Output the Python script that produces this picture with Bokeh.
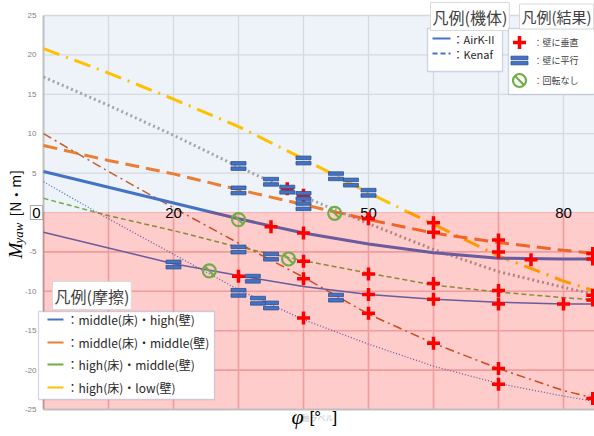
import numpy as np
from bokeh.plotting import figure
from bokeh.models import BoxAnnotation, Label, Range1d
from bokeh.embed import file_html
from bokeh.resources import INLINE

# ---------------- data ----------------
phi = [0, 10, 20, 30, 40, 50, 60, 70, 80, 85]
curve_yellow = [20.8, 17.7, 14.4, 10.9, 6.8, 2.5, -1.5, -5.5, -8.7, -10.0]
curve_grey = [17.2, 13.6, 9.8, 5.8, 2.0, -1.4, -4.7, -7.5, -9.5, -10.4]
curve_orange = [8.5, 6.6, 4.9, 2.9, 1.0, -0.9, -2.6, -3.8, -4.8, -5.2]
curve_blue = [5.2, 3.2, 1.2, -0.8, -2.6, -4.0, -5.1, -5.8, -5.9, -5.9]
curve_brown = [10.0, 5.2, 0.6, -3.9, -8.2, -12.9, -16.6, -19.8, -22.6, -23.6]
curve_bdot = [3.9, -0.8, -5.3, -9.8, -13.6, -16.7, -19.5, -21.7, -23.3, -24.0]
curve_green = [1.8, -0.4, -2.3, -4.4, -6.1, -7.7, -9.2, -10.1, -10.8, -11.1]
curve_bthin = [-2.5, -4.5, -6.5, -8.0, -9.4, -10.4, -11.0, -11.4, -11.6, -11.6]

perp_phi = [37.5, 40, 50, 35, 40, 30, 40, 40, 40, 50, 50, 50,
            60, 60, 60, 60, 60, 70, 70, 70, 70, 70, 70, 75, 80,
            84.5, 84.5, 84.5, 84.5, 84.5]
perp_m = [3.0, 2.2, -0.8, -1.8, -2.6, -8.1, -6.2, -8.4, -13.4, -7.8, -10.4, -12.8,
          -1.3, -2.5, -9.0, -11.0, -16.6, -3.5, -5.0, -9.9, -11.6, -19.8, -21.8, -6.0, -11.6,
          -5.2, -5.9, -10.5, -11.1, -23.6]

par_phi = [30, 30, 35, 37.5, 40, 40, 40, 45, 47.3, 50,
           20, 30, 35, 32.2, 30, 33, 35, 45]
par_m = [5.9, 2.8, 3.9, 2.9, 6.6, 2.1, 0.8, 4.6, 3.8, 2.5,
         -6.6, -4.7, -5.6, -8.4, -10.2, -11.2, -11.8, -10.8]

none_phi = [30, 44.8, 37.7, 25.5]
none_m = [-0.9, -0.1, -5.9, -7.4]

y_ticks = [-25, -20, -15, -10, -5, 0, 5, 10, 15, 20, 25]
x_grid = [10, 20, 30, 40, 50, 60, 70, 80]
x_tick_vals = [0, 20, 50, 80]
x_tick_text = ["0", "20", "50", "80"]

friction_labels = ["：middle(床)・high(壁)", "：middle(床)・middle(壁)",
                   "：high(床)・middle(壁)", "：high(床)・low(壁)"]
friction_colors = ["#4472C4", "#ED7D31", "#70AD47", "#FFC000"]
body_labels = ["：AirK-II", "：Kenaf"]
result_labels = ["：壁に垂直", "：壁に平行", "：回転なし"]

JP = "Noto Sans CJK JP"

# ---------------- layout (pixels) ----------------
W, H = 594, 436
PL, PT, PB = 43, 15, 409          # plot-area left / top / bottom in page pixels
x0, x1 = 0, 85
y0, y1 = -25, 25
kx = 6.5                          # px per degree
ky = (PB - PT) / (y1 - y0)        # px per N*m
xr = Range1d(x0 - PL / kx, x0 + (W - PL) / kx)
yr = Range1d(y0 - (H - PB) / ky, y1 + PT / ky)
x_end = xr.end


def sy(py):
    return H - py


p = figure(width=W, height=H, x_range=xr, y_range=yr, output_backend="svg",
           toolbar_location=None, x_axis_location=None, y_axis_location=None,
           min_border=0)
p.background_fill_color = "white"
p.border_fill_color = "white"
p.outline_line_color = None
p.grid.visible = False
p.extra_x_ranges = {"px": Range1d(0, W)}
p.extra_y_ranges = {"px": Range1d(H, 0)}

# plot-area backgrounds
p.add_layout(BoxAnnotation(left=x0, bottom=0, top=y1, fill_color="#EEF2F9", fill_alpha=1,
                           line_color=None, level="image"))

# grid lines
up_ticks = [t for t in y_ticks if t > 0]
lo_ticks = [t for t in y_ticks if -25 < t < 0]
p.segment(x0=x_grid, y0=[0] * len(x_grid), x1=x_grid, y1=[y1] * len(x_grid),
          line_color="#D6D9E0", line_width=1.3, level="underlay")
p.segment(x0=[x0] * len(up_ticks), y0=up_ticks, x1=[x_end] * len(up_ticks), y1=up_ticks,
          line_color="#D6D9E0", line_width=1.3, level="underlay")
p.segment(x0=x_grid, y0=[y0] * len(x_grid), x1=x_grid, y1=[0] * len(x_grid),
          line_color="#ECC4C4", line_width=1.6, level="underlay")
p.segment(x0=[x0] * len(lo_ticks), y0=lo_ticks, x1=[x_end] * len(lo_ticks), y1=lo_ticks,
          line_color="#ECC4C4", line_width=1.6, level="underlay")
p.segment(x0=[x0], y0=[y0], x1=[x0], y1=[y1], line_color="#BFBFBF", line_width=2,
          level="underlay")

# ---------------- curves ----------------
p.line(phi, curve_grey, line_color="#A5A5A5", line_width=3, line_dash="2 3")
p.line(phi, curve_yellow, line_color="#FFC000", line_width=3, line_dash="17 7 2 7")
p.line(phi, curve_orange, line_color="#ED7D31", line_width=3, line_dash="14 7")
p.line(phi, curve_brown, line_color="#C0602A", line_width=1.5, line_dash="9 4 2 4")
p.line(phi, curve_bdot, line_color="#4472C4", line_width=1.3, line_dash="1 2")
p.line(phi, curve_green, line_color="#70AD47", line_width=1.5, line_dash="5 3")
p.line(phi, curve_bthin, line_color="#4472C4", line_width=1.5)
p.line(phi, curve_blue, line_color="#4472C4", line_width=3)

# negative region tint, drawn over the curves
p.add_layout(BoxAnnotation(left=x0, bottom=y0, top=0, fill_color="#FF0000", fill_alpha=0.2,
                           line_color="#FF0000", line_alpha=0.2, line_width=1))
p.segment(x0=[x0], y0=[y0], x1=[x_end], y1=[y0], line_color="#BFBFBF", line_width=2,
          level="overlay")

# ---------------- markers ----------------
p.scatter(perp_phi, perp_m, marker="cross", size=13, line_color="#FF0000",
          line_width=3.5, level="overlay")
bar_x = par_phi + par_phi
bar_y = [m + 0.34 for m in par_m] + [m - 0.34 for m in par_m]
p.rect(bar_x, bar_y, width=15, height=3.5, width_units="screen", height_units="screen",
       fill_color="#4472C4", line_color="#2F528F", line_width=0.8, level="overlay")
p.scatter(none_phi, none_m, marker="circle", size=13, fill_color=None,
          line_color="#70AD47", line_width=2.2, level="overlay")
p.scatter(none_phi, none_m, marker="dash", size=12, angle=-np.pi / 4,
          line_color="#70AD47", line_width=2.2, level="overlay")

# ---------------- tick labels ----------------
for t in y_ticks:
    if t == 0:
        continue
    p.add_layout(Label(x=x0, y=t, x_offset=-7, text=str(t), text_align="right",
                       text_baseline="middle", text_font="Liberation Sans",
                       text_font_size="8px", text_color="#7F7F7F"))

for v, t in zip(x_tick_vals, x_tick_text):
    if v == 0:
        p.add_layout(Label(x=v, y=0, text=t, text_align="center", text_baseline="middle",
                           x_offset=-7, text_font="Liberation Sans", text_font_size="15px",
                           text_color="#000000", background_fill_color="white",
                           border_line_color="#A6A6A6", padding=2))
    else:
        p.add_layout(Label(x=v, y=0, text=t, text_align="center", text_baseline="middle",
                           text_font="Liberation Sans", text_font_size="15px",
                           text_color="#000000"))

# ---------------- legends (drawn by hand) ----------------
def legend_box(l, t, r, b):
    p.add_layout(BoxAnnotation(left=l, right=r, top=sy(t), bottom=sy(b),
                               left_units="screen", right_units="screen",
                               top_units="screen", bottom_units="screen",
                               fill_color="white", fill_alpha=1,
                               line_color="#6F7FAE", line_width=1.3))


def legend_text(x, y, text, size, color="#262626"):
    p.add_layout(Label(x=x, y=sy(y), x_units="screen", y_units="screen", text=text,
                       text_font=JP, text_font_size=size, text_color=color,
                       text_baseline="middle"))


def title_box(x, y, text, size):
    p.add_layout(Label(x=x, y=sy(y), x_units="screen", y_units="screen", text=text,
                       text_font=JP, text_font_size=size, text_color="#404040",
                       text_baseline="middle", background_fill_color="white",
                       border_line_color="#D9D9D9", padding=2))


PX = dict(x_range_name="px", y_range_name="px", level="overlay")

# friction legend
legend_box(38, 311, 214, 399)
f_y = [319, 342, 364, 387]
p.segment(x0=[47] * 4, y0=f_y, x1=[63] * 4, y1=f_y, line_color=friction_colors,
          line_width=2, **PX)
for yy, lab in zip(f_y, friction_labels):
    legend_text(66, yy, lab, "12px")
title_box(52, 295, "凡例(摩擦)", "16px")

# airframe legend
legend_box(427, 28, 502, 71)
p.segment(x0=[432], y0=[38], x1=[450], y1=[38], line_color="#4472C4", line_width=2, **PX)
p.segment(x0=[432], y0=[53], x1=[450], y1=[53], line_color="#4472C4", line_width=2,
          line_dash="5 3", **PX)
legend_text(452, 38, body_labels[0], "11px")
legend_text(452, 53, body_labels[1], "11px")
title_box(430, 16, "凡例(機体)", "16px")

# result legend
legend_box(508, 28, W, 94)
p.scatter(x=[519], y=[42], marker="cross", size=13, line_color="#FF0000", line_width=3.5, **PX)
p.rect(x=[519, 519], y=[57.4, 62.6], width=17, height=3.5, fill_color="#4472C4",
       line_color="#2F528F", line_width=0.8, **PX)
p.scatter(x=[519], y=[80], marker="circle", size=13, fill_color=None,
          line_color="#70AD47", line_width=2.2, **PX)
p.scatter(x=[519], y=[80], marker="dash", size=12, angle=-np.pi / 4,
          line_color="#70AD47", line_width=2.2, **PX)
for yy, lab in zip([42, 60, 80], result_labels):
    legend_text(533, yy, lab, "9px", "#404040")
title_box(519, 16, "凡例(結果)", "15px")

# ---------------- axis titles ----------------
p.add_layout(Label(x=15, y=sy(258), x_units="screen", y_units="screen", text="M",
                   angle=np.pi / 2, text_font="Liberation Serif", text_font_style="italic",
                   text_font_size="19px", text_baseline="middle", text_color="#000000"))
p.add_layout(Label(x=18, y=sy(243), x_units="screen", y_units="screen", text="yaw",
                   angle=np.pi / 2, text_font="Liberation Serif", text_font_style="italic",
                   text_font_size="13px", text_baseline="middle", text_color="#000000"))
p.add_layout(Label(x=14, y=sy(216), x_units="screen", y_units="screen", text="[N・m]",
                   angle=np.pi / 2, text_font=JP, text_font_size="14px",
                   text_baseline="middle", text_color="#000000"))

p.add_layout(Label(x=301, y=sy(417), x_units="screen", y_units="screen", text="軸ラベル",
                   text_font=JP, text_font_size="8px", text_color="#C4C4C4",
                   text_baseline="middle"))
p.add_layout(Label(x=297, y=sy(428), x_units="screen", y_units="screen", text="φ",
                   text_font="Liberation Serif", text_font_style="italic",
                   text_font_size="22px", text_align="center", text_color="#000000"))
p.add_layout(Label(x=309, y=sy(426), x_units="screen", y_units="screen", text="[°",
                   text_font="Liberation Sans", text_font_size="17px", text_color="#000000"))
p.add_layout(Label(x=332, y=sy(426), x_units="screen", y_units="screen", text="]",
                   text_font="Liberation Sans", text_font_size="17px", text_color="#000000"))

open("out.html", "w").write(file_html(p, INLINE))
